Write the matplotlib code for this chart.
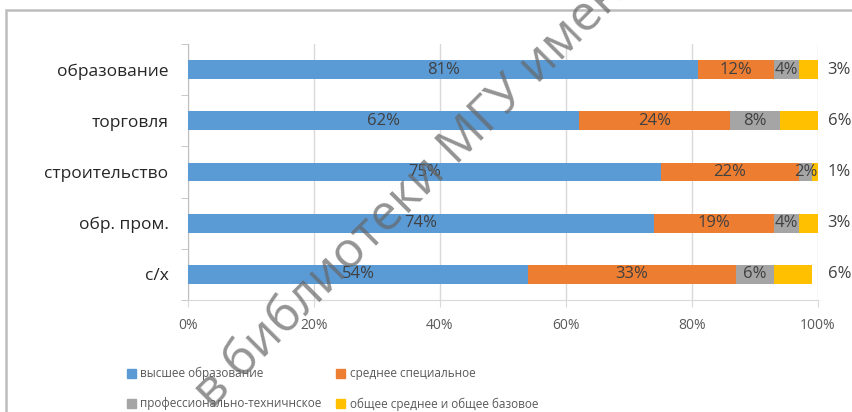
import matplotlib.pyplot as plt
import matplotlib.patches as mpatches
from matplotlib.ticker import FixedLocator, PercentFormatter
import numpy as np

plt.rcParams['font.family'] = ['Open Sans', 'DejaVu Sans']

# data, top to bottom
categories = ["образование", "торговля", "строительство", "обр. пром.", "с/х"]
higher = [81, 62, 75, 74, 54]
special = [12, 24, 22, 19, 33]
vocational = [4, 8, 2, 4, 6]
general = [3, 6, 1, 3, 6]

series_names = ["высшее образование", "среднее специальное",
                "профессионально-техничнское", "общее среднее и общее базовое"]
colors = ["#5B9BD5", "#ED7D31", "#A5A5A5", "#FFC000"]

W, H = 852, 412
fig = plt.figure(figsize=(W / 100, H / 100), dpi=100)
ax = fig.add_axes([188 / W, (H - 300) / H, 630 / W, 256 / H])

# chart border like the scanned excel frame
fig.add_artist(mpatches.Rectangle((6 / W, -0.1), 1.2, (H - 10) / H + 0.1,
                                  transform=fig.transFigure, fill=False,
                                  edgecolor="#BDBDBD", lw=1.8))

y = np.arange(len(categories))
series = [higher, special, vocational, general]
left = np.zeros(len(categories))
label_color = "#404040"
for vals, col, name in zip(series, colors, series_names):
    vals = np.array(vals, dtype=float)
    ax.barh(y, vals, left=left, height=0.37, color=col, label=name, zorder=3)
    if col != colors[-1]:
        for yi, l, v in zip(y, left, vals):
            ax.text(l + v / 2, yi, f"{int(v)}%", ha="center", va="center",
                    fontsize=12, color=label_color, zorder=4)
    else:
        for yi, v in zip(y, vals):
            ax.annotate(f"{int(v)}%", (100, yi), xytext=(7, 0),
                        textcoords="offset points", ha="left", va="center",
                        fontsize=12, color=label_color, annotation_clip=False)
    left += vals

ax.set_xlim(0, 100)
ax.set_ylim(len(categories) - 0.5, -0.5)
ax.xaxis.set_major_locator(FixedLocator([0, 20, 40, 60, 80, 100]))
ax.xaxis.set_major_formatter(PercentFormatter(decimals=0))
ax.grid(axis="x", color="#D9D9D9", lw=1, zorder=0)
ax.set_yticks(y)
ax.set_yticklabels(categories, fontsize=12.5, color="#262626")
ax.yaxis.set_minor_locator(FixedLocator(np.arange(-0.5, len(categories), 1)))
ax.tick_params(axis="y", which="major", length=0, pad=14)
ax.tick_params(axis="y", which="minor", length=5, color="#BFBFBF", direction="out")
ax.tick_params(axis="x", length=5, color="#D9D9D9", labelsize=10,
               labelcolor="#595959", pad=8)
for s in ["top", "right"]:
    ax.spines[s].set_visible(False)
ax.spines["left"].set_color("#BFBFBF")
ax.spines["bottom"].set_color("#D9D9D9")

# legend fills column-first, so order handles to get rows like the reference
order = [0, 2, 1, 3]
handles = [mpatches.Patch(color=colors[i]) for i in order]
fig.legend(handles, [series_names[i] for i in order], ncol=2, loc="upper left",
           bbox_to_anchor=(121 / W, (H - 361) / H), frameon=False,
           fontsize=8.5, labelcolor="#595959", handlelength=0.8, handleheight=0.8,
           handletextpad=0.35, columnspacing=1.2, labelspacing=1.45,
           borderpad=0)

# scan watermark
fig.text(212 / W, (H - 410) / H, "в библиотеки МГУ имени", rotation=45,
         rotation_mode="anchor", ha="left", va="baseline", fontsize=36,
         color="#666666", alpha=0.7, zorder=10)

fig.savefig("out.png", dpi=100)
